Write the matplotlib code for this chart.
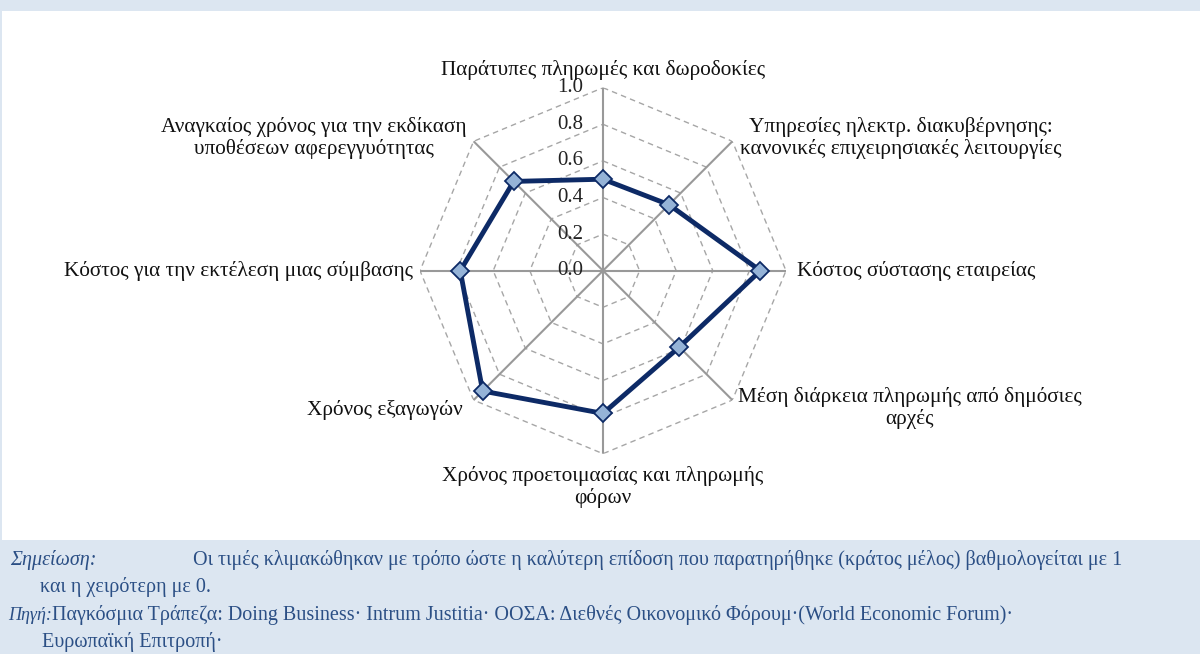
import numpy as np
import matplotlib
matplotlib.use("Agg")
import matplotlib.pyplot as plt
from matplotlib.patches import Rectangle

categories = [
    "Παράτυπες πληρωμές και δωροδοκίες",
    "Υπηρεσίες ηλεκτρ. διακυβέρνησης:\nκανονικές επιχειρησιακές λειτουργίες",
    "Κόστος σύστασης εταιρείας",
    "Μέση διάρκεια πληρωμής από δημόσιες\nαρχές",
    "Χρόνος προετοιμασίας και πληρωμής\nφόρων",
    "Χρόνος εξαγωγών",
    "Κόστος για την εκτέλεση μιας σύμβασης",
    "Αναγκαίος χρόνος για την εκδίκαση\nυποθέσεων αφερεγγυότητας",
]
values = [0.50, 0.51, 0.86, 0.59, 0.78, 0.93, 0.78, 0.69]
rticks = [0.0, 0.2, 0.4, 0.6, 0.8, 1.0]
rtick_labels = ["0.0", "0.2", "0.4", "0.6", "0.8", "1.0"]

note_label = "Σημείωση:"
note_text_1 = "Οι τιμές κλιμακώθηκαν με τρόπο ώστε η καλύτερη επίδοση που παρατηρήθηκε (κράτος μέλος) βαθμολογείται με 1"
note_text_2 = "και η χειρότερη με 0."
src_label = "Πηγή:"
src_text_1 = "Παγκόσμια Τράπεζα: Doing Business· Intrum Justitia· ΟΟΣΑ: Διεθνές Οικονομικό Φόρουμ·(World Economic Forum)·"
src_text_2 = "Ευρωπαϊκή Επιτροπή·"

W, H = 1200, 654
SERIF = ["Liberation Serif", "DejaVu Serif"]
BAND = "#dce6f1"
NAVY = "#0d2a66"
TXT = "#2b4f85"

fig = plt.figure(figsize=(W / 100, H / 100), dpi=100)
fig.patch.set_facecolor("white")

def px(x, y):
    return x / W, 1 - y / H

# background bands
fig.add_artist(Rectangle((0, 1 - 11 / H), 1, 11 / H, transform=fig.transFigure,
                         facecolor=BAND, edgecolor="none", zorder=0))
fig.add_artist(Rectangle((0, 0), 1, (H - 540) / H, transform=fig.transFigure,
                         facecolor=BAND, edgecolor="none", zorder=0))
fig.add_artist(Rectangle((0, (H - 540) / H), 2 / W, (540 - 11) / H, transform=fig.transFigure,
                         facecolor=BAND, edgecolor="none", zorder=0))

# radar axes
cx, cy, R = 603, 270.7, 183
ax = fig.add_axes([(cx - R) / W, (H - cy - R) / H, 2 * R / W, 2 * R / H], projection="polar")
ax.set_theta_zero_location("N")
ax.set_theta_direction(-1)
ax.set_ylim(0, 1)
ax.set_facecolor("none")
ax.grid(False)
ax.spines["polar"].set_visible(False)
ax.set_xticks([])
ax.set_yticks([])

n = len(categories)
angles = np.linspace(0, 2 * np.pi, n, endpoint=False)
ang_closed = np.append(angles, angles[0])

for r in rticks[1:]:
    ax.plot(ang_closed, [r] * (n + 1), color="#a6a6a6", lw=1.0, ls=(0, (4, 3)), zorder=1)
for a in angles:
    ax.plot([a, a], [0, 1.0], color="#999999", lw=1.5, zorder=2)

vals_closed = values + values[:1]
ax.plot(ang_closed, vals_closed, color=NAVY, lw=3.5, zorder=4, clip_on=False)
ax.plot(angles, values, ls="none", marker="D", markersize=9.5, markerfacecolor="#95b3d7",
        markeredgecolor=NAVY, markeredgewidth=1.3, zorder=5, clip_on=False)

for r, lab in zip(rticks, rtick_labels):
    ax.annotate(lab, xy=(0, r), xytext=(-14, 0), textcoords="offset points",
                ha="right", va="center", fontsize=15, family=SERIF, color="#222222",
                annotation_clip=False)

FS = 15.3
label_pos = [
    (603, 70, "center"),
    (901, 138, "center"),
    (797, 271, "left"),
    (910, 408, "center"),
    (603, 487, "center"),
    (463, 410, "right"),
    (413, 271, "right"),
    (314, 138, "center"),
]
for cat, (x, y, ha) in zip(categories, label_pos):
    fig.text(*px(x, y), cat, ha=ha, va="center", fontsize=FS, family=SERIF,
             color="#111111", linespacing=1.1, multialignment="center")

# footnotes
NFS = 14.5
fig.text(*px(10, 560), note_label, ha="left", va="center", fontsize=NFS, family=SERIF,
         style="italic", color=TXT)
fig.text(*px(193, 560), note_text_1, ha="left", va="center", fontsize=NFS, family=SERIF, color=TXT)
fig.text(*px(40, 587), note_text_2, ha="left", va="center", fontsize=NFS, family=SERIF, color=TXT)
fig.text(*px(8, 615), src_label, ha="left", va="center", fontsize=13, family=SERIF,
         style="italic", color=TXT)
fig.text(*px(52, 615), src_text_1, ha="left", va="center", fontsize=NFS, family=SERIF, color=TXT)
fig.text(*px(42, 642), src_text_2, ha="left", va="center", fontsize=NFS, family=SERIF, color=TXT)

fig.savefig("out.png", dpi=100, facecolor=fig.get_facecolor())
